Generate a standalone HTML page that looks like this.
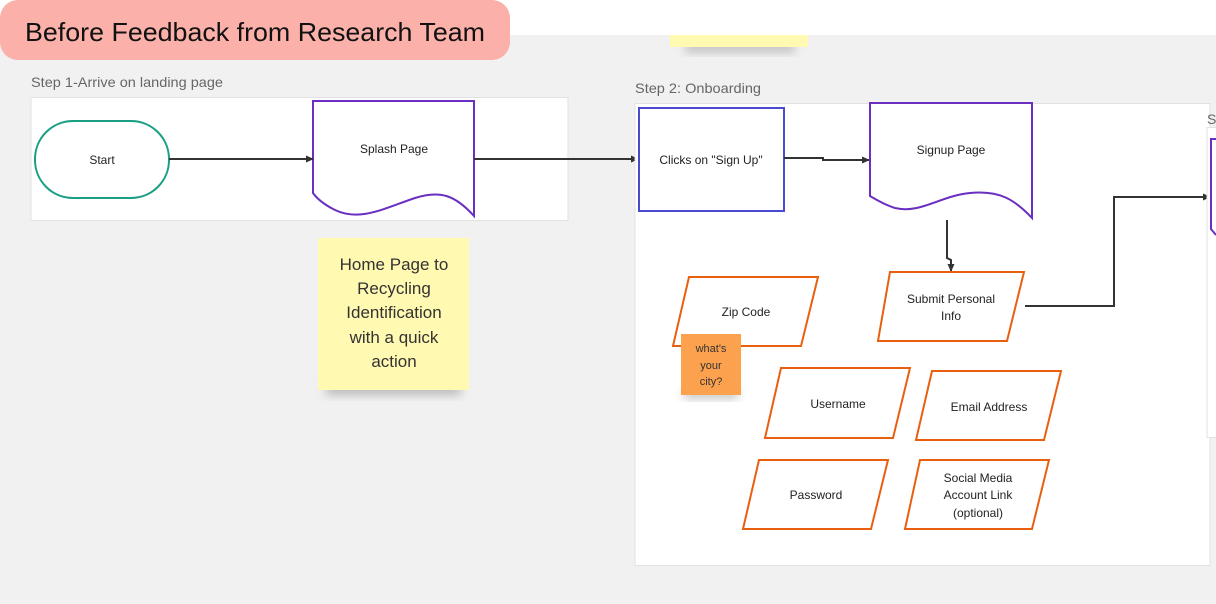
<!DOCTYPE html>
<html><head><meta charset="utf-8"><style>
html,body{margin:0;padding:0;width:1216px;height:604px;overflow:hidden;background:#f1f1f1;}
svg{display:block;font-family:"Liberation Sans",sans-serif;}
</style></head><body>
<svg width="1216" height="604" viewBox="0 0 1216 604" xmlns="http://www.w3.org/2000/svg">
<defs>
<marker id="ar" markerWidth="8" markerHeight="8" refX="7" refY="4" orient="auto" markerUnits="userSpaceOnUse"><path d="M0,0.5 L8,4 L0,7.5 Z" fill="#333"/></marker>
<filter id="sh" x="-20%" y="-50%" width="140%" height="200%"><feGaussianBlur stdDeviation="5"/></filter>
</defs>
<rect x="0" y="0" width="1216" height="35" fill="#fff"/>
<!-- top sticky -->
<rect x="685" y="42" width="110" height="10" fill="#999" filter="url(#sh)" opacity="0.6"/>
<rect x="670" y="35" width="138" height="12" fill="#fff9b1"/>
<!-- title -->
<rect x="0" y="0" width="510" height="60" rx="18" fill="#fbb1a9"/>
<text x="25" y="41" font-size="26" fill="#111" textLength="460" lengthAdjust="spacingAndGlyphs">Before Feedback from Research Team</text>
<!-- step 1 -->
<text x="31" y="87" font-size="14" fill="#666" textLength="192" lengthAdjust="spacingAndGlyphs">Step 1-Arrive on landing page</text>
<rect x="31" y="97.5" width="537" height="123" fill="#fff" stroke="#e2e2e2"/>
<rect x="35" y="121" width="134" height="77" rx="38" fill="#fff" stroke="#1a9e84" stroke-width="2"/>
<text x="102" y="164" font-size="12" text-anchor="middle" fill="#222">Start</text>
<path d="M313,101 H474 V216 C455,195 440,190 415,198 C385,208 360,222 335,210 C325,205 318,200 313,193 Z" fill="#fff" stroke="#6a2fc0" stroke-width="2"/>
<text x="394" y="153" font-size="12" text-anchor="middle" fill="#222">Splash Page</text>
<line x1="169" y1="159" x2="313" y2="159" stroke="#333" stroke-width="2" marker-end="url(#ar)"/>
<line x1="474" y1="159" x2="638" y2="159" stroke="#333" stroke-width="2" marker-end="url(#ar)"/>
<!-- sticky home -->
<rect x="326" y="383" width="135" height="12" fill="#888" filter="url(#sh)" opacity="0.55"/>
<rect x="318" y="238" width="151" height="152" fill="#fff9b1"/>
<g font-size="17" fill="#333" text-anchor="middle">
<text x="394" y="270">Home Page to</text><text x="394" y="294">Recycling</text><text x="394" y="318">Identification</text><text x="394" y="343">with a quick</text><text x="394" y="367">action</text></g>
<!-- step 2 -->
<text x="635" y="93" font-size="14" fill="#666" textLength="126" lengthAdjust="spacingAndGlyphs">Step 2: Onboarding</text>
<rect x="635" y="103.5" width="575" height="462" fill="#fff" stroke="#e2e2e2"/>
<rect x="639" y="108" width="145" height="103" fill="#fff" stroke="#4a4ad0" stroke-width="2"/>
<text x="711" y="164" font-size="12" text-anchor="middle" fill="#222">Clicks on "Sign Up"</text>
<polyline points="784,158 823,158 823,160 869,160" fill="none" stroke="#333" stroke-width="2" marker-end="url(#ar)"/>
<path d="M870,103 H1032 V218 C1015,200 1000,190 970,193 C940,196 920,214 895,208 C885,205 877,200 870,196 Z" fill="#fff" stroke="#6a2fc0" stroke-width="2"/>
<text x="951" y="154" font-size="12" text-anchor="middle" fill="#222">Signup Page</text>
<polyline points="947,220 947,258 951,260 951,271" fill="none" stroke="#333" stroke-width="2" marker-end="url(#ar)"/>
<polyline points="1025,306 1114,306 1114,197 1210,197" fill="none" stroke="#333" stroke-width="2" marker-end="url(#ar)"/>
<g fill="#fff" stroke="#e8600f" stroke-width="2">
<polygon points="890,272 1024,272 1007,341 878,341"/>
<polygon points="689,277 818,277 801,346 673,346"/>
<polygon points="781,368 910,368 893,438 765,438"/>
<polygon points="932,371 1061,371 1044,440 916,440"/>
<polygon points="759,460 888,460 871,529 743,529"/>
<polygon points="920,460 1049,460 1032,529 905,529"/>
</g>
<g font-size="12" fill="#222" text-anchor="middle">
<text x="951" y="303">Submit Personal</text><text x="951" y="320">Info</text>
<text x="746" y="316">Zip Code</text>
<text x="838" y="408">Username</text>
<text x="989" y="411">Email Address</text>
<text x="816" y="499">Password</text>
<text x="978" y="482">Social Media</text><text x="978" y="499">Account Link</text><text x="978" y="517">(optional)</text>
</g>
<rect x="684" y="390" width="54" height="8" fill="#888" filter="url(#sh)" opacity="0.6"/>
<rect x="681" y="334" width="60" height="61" fill="#fca24f"/>
<g font-size="11" fill="#333" text-anchor="middle"><text x="711" y="352">what's</text><text x="711" y="369">your</text><text x="711" y="385">city?</text></g>
<!-- step 3 partial -->
<text x="1207" y="124" font-size="14" fill="#666">St</text>
<rect x="1207" y="127.5" width="20" height="310" fill="#fff" stroke="#e2e2e2"/>
<path d="M1222,139 H1211 V229 L1216,235" fill="none" stroke="#6a2fc0" stroke-width="2"/>
</svg>
</body></html>
